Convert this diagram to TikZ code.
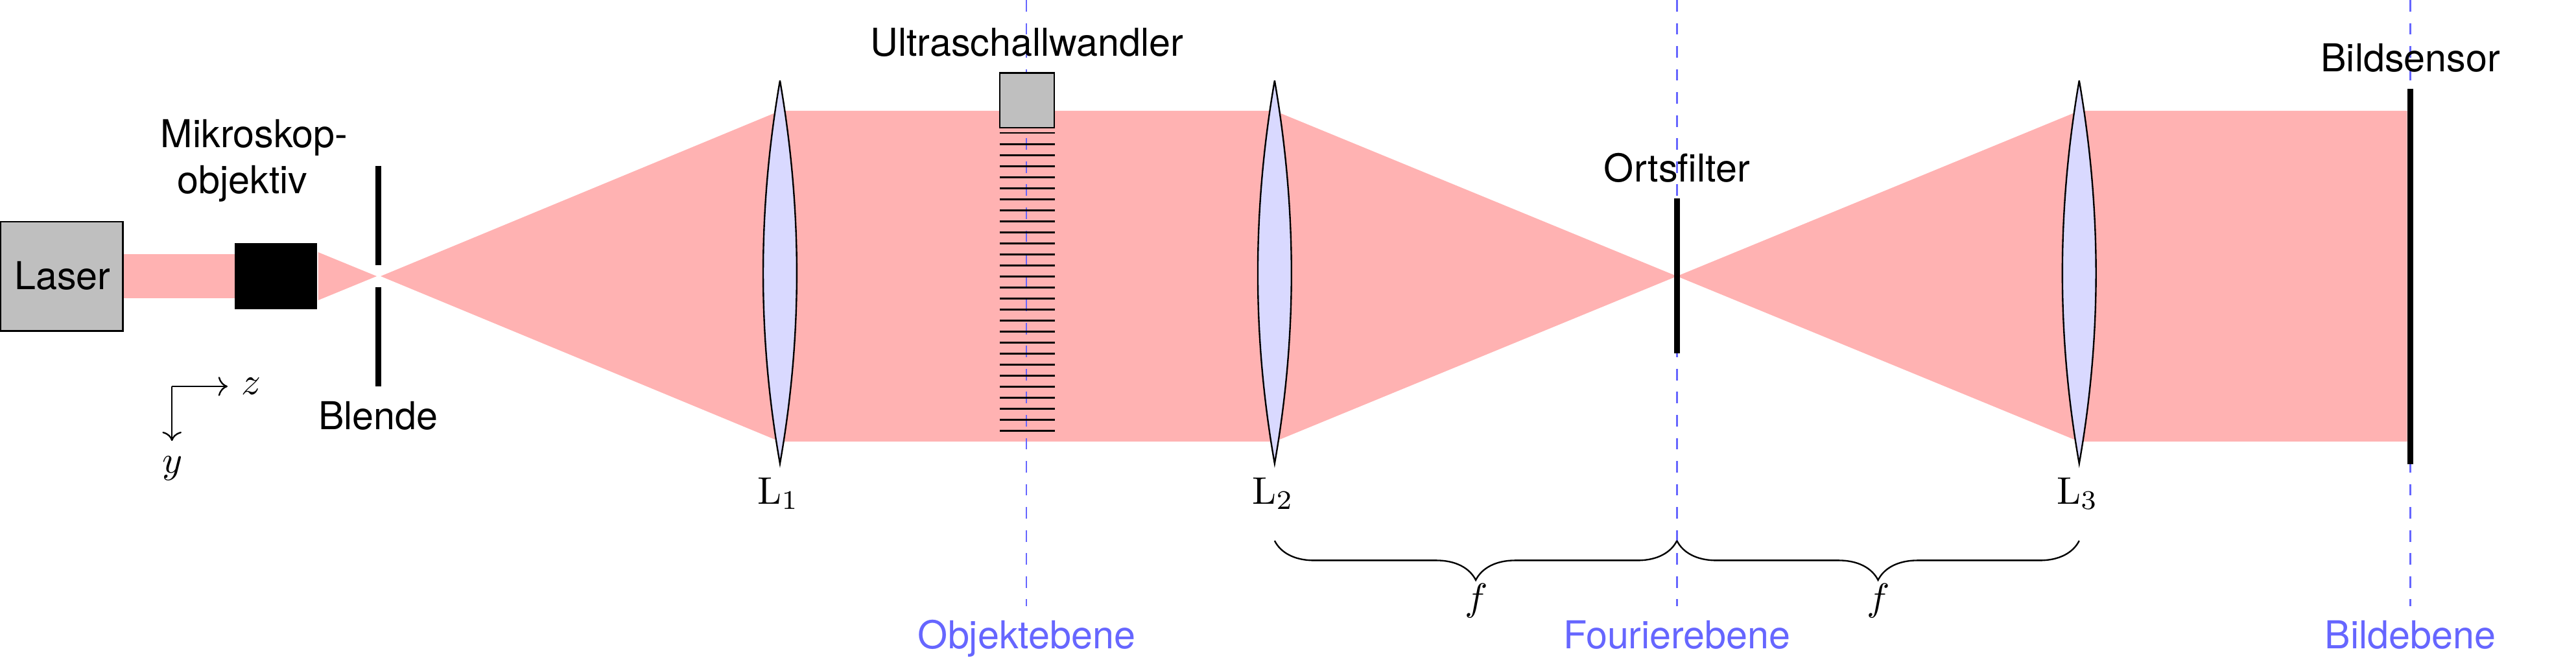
\documentclass[tikz,border=0pt]{standalone}
\usepackage{amsmath}
\usepackage[no-math]{fontspec}
\setmainfont{TeX Gyre Heros}
\usepackage{xcolor}
\usetikzlibrary{decorations.pathreplacing,arrows.meta}

\tikzset{
box/.style={draw,fill=gray!50,inner sep=0pt},
bar/.style={line width=1.6pt},
plane/.style={dashed,color=blue!60,line width=.45pt},
lens/.style={draw,fill=blue!15},
axis/.style={-{Computer Modern Rightarrow[width=5pt,length=2.4pt]}},
planelabel/.style={anchor=base,inner sep=0pt,text=blue!60},
label/.style={anchor=base,inner sep=0pt},
}

\begin{document}
\begin{tikzpicture}
\useasboundingbox (0,-3.606) rectangle (23.565,2.527);
% beam
\fill[red!30] (1.13,.2) rectangle (2.15,-.2);
\fill[red!30] (2.91,.22) -- (3.446,0) -- (2.91,-.22) -- cycle;
\fill[red!30] (3.482,0) -- (7.135,1.513) -- (11.66,1.513) -- (15.34,0) -- (19.02,1.513) -- (22.02,1.513)
-- (22.02,-1.513) -- (19.02,-1.513) -- (15.34,0) -- (11.66,-1.513) -- (7.135,-1.513) -- cycle;
% planes
\foreach \x in {9.39,15.34,22.05}
\draw[plane] (\x,2.527) -- (\x,-3.02);
% lenses
\foreach \x/\i in {7.135/1,11.66/2,19.02/3}{
\draw[lens] (\x,1.79) .. controls (\x+.205,.6) and (\x+.205,-.55) .. (\x,-1.714)
.. controls (\x-.205,-.55) and (\x-.205,.6) .. (\x,1.79);
\node[label] (L\i) at (\x-.015,-2.082) {$\mathrm{L}_\i$};
}
% elements
\node[box,minimum width=1.118cm,minimum height=1cm] (laser) at (.566,0) {};
\node[label] (lasertext) at (.571,-.122) {Laser};
\node[draw=none,fill=black,inner sep=0pt,minimum width=.753cm,minimum height=.6cm] (objective) at (2.524,0) {};
\draw[bar] (3.461,1.008) -- (3.461,.1);
\draw[bar] (3.461,-.1) -- (3.461,-1.008);
\draw[bar] (15.34,.712) -- (15.34,-.706);
\draw[bar] (22.05,1.714) -- (22.05,-1.72);
\node[box,minimum width=.5cm,minimum height=.5cm] (transducer) at (9.395,1.61) {};
\foreach \y in {0,...,27}
\draw[line width=.5pt] (9.145,1.311-.101*\y) -- (9.65,1.311-.101*\y);
% axes
\coordinate (origin) at (1.573,-1.008);
\coordinate (zend) at (2.082,-1.008);
\coordinate (yend) at (1.573,-1.507);
\draw[axis] (origin) -- (zend);
\draw[axis] (origin) -- (yend);
\node[label] (zlabel) at (2.301,-1.084) {$z$};
\node[label] (ylabel) at (1.578,-1.797) {$y$};
% braces
\coordinate (b1) at (11.66,-2.42);
\coordinate (b2) at (15.34,-2.42);
\coordinate (b3) at (19.02,-2.42);
\draw[decorate,decoration={brace,mirror,amplitude=.36cm}] (b1) -- (b2);
\draw[decorate,decoration={brace,mirror,amplitude=.36cm}] (b2) -- (b3);
\node[label] (f1) at (13.505,-3.06) {$f$};
\node[label] (f2) at (17.185,-3.06) {$f$};
% labels
\node[label] (mikro) at (2.325,1.18) {Mikroskop-};
\node[label] (objektiv) at (2.218,.759) {objektiv};
\node[label] (blende) at (3.461,-1.4) {Blende};
\node[label] (wandler) at (9.393,2.011) {Ultraschallwandler};
\node[label] (filter) at (15.34,.866) {Ortsfilter};
\node[label] (sensor) at (22.05,1.874) {Bildsensor};
\node[planelabel] (objektebene) at (9.392,-3.405) {Objektebene};
\node[planelabel] (fourier) at (15.34,-3.405) {Fourierebene};
\node[planelabel] (bildebene) at (22.05,-3.405) {Bildebene};
\end{tikzpicture}
\end{document}
